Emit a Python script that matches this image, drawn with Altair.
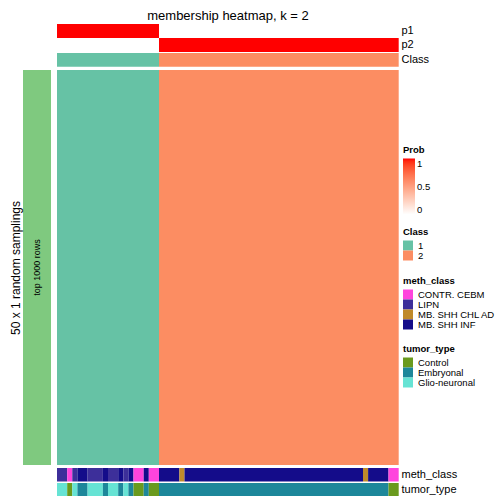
import altair as alt
import pandas as pd

TITLE = "membership heatmap, k = 2"
FONT = "Liberation Sans"

# run-length descriptions of the columns (samples)
class_runs = [("1", 20), ("2", 47)]
p1_runs = [(1.0, 20), (0.0, 47)]
p2_runs = [(0.0, 20), (1.0, 47)]
meth_runs = [
    ("LIPN", 2), ("CONTR. CEBM", 1), ("LIPN", 1), ("MB. SHH INF", 2), ("LIPN", 3),
    ("MB. SHH INF", 1), ("LIPN", 2), ("MB. SHH INF", 1), ("LIPN", 1), ("MB. SHH INF", 1),
    ("CONTR. CEBM", 2), ("MB. SHH INF", 1), ("CONTR. CEBM", 2), ("MB. SHH INF", 4),
    ("MB. SHH CHL AD", 1), ("MB. SHH INF", 35), ("MB. SHH CHL AD", 1), ("MB. SHH INF", 4),
    ("CONTR. CEBM", 2),
]
tumor_runs = [
    ("Glio-neuronal", 2), ("Control", 1), ("Glio-neuronal", 1), ("Embryonal", 2),
    ("Glio-neuronal", 3), ("Embryonal", 1), ("Glio-neuronal", 2), ("Embryonal", 1),
    ("Glio-neuronal", 1), ("Embryonal", 1), ("Control", 2), ("Embryonal", 1),
    ("Control", 2), ("Embryonal", 45), ("Control", 2),
]

class_levels = ["1", "2"]
class_colors = ["#66C2A5", "#FC8D62"]
meth_levels = ["CONTR. CEBM", "LIPN", "MB. SHH CHL AD", "MB. SHH INF"]
meth_colors = ["#FF44DD", "#3D2F9A", "#BF8A2B", "#140C8A"]
tumor_levels = ["Control", "Embryonal", "Glio-neuronal"]
tumor_colors = ["#6A9A1E", "#1D879A", "#66E3D4"]
row_label = "top 1000 rows"
side_title = "50 x 1 random samplings"

N_COLS = sum(n for _, n in class_runs)


def segments(runs, row, field):
    """Turn a run-length list into one record per run (start/end column index)."""
    recs, pos = [], 0
    for v, n in runs:
        recs.append({"start": pos, "end": pos + n, "row": row, field: v})
        pos += n
    return recs


df_p = pd.DataFrame(segments(p1_runs, "p1", "prob") + segments(p2_runs, "p2", "prob"))
df_cls = pd.DataFrame(segments(class_runs, "Class", "cls"))
df_main = pd.DataFrame(segments(class_runs, row_label, "cls"))
df_meth = pd.DataFrame(segments(meth_runs, "meth_class", "meth_class"))
df_tumor = pd.DataFrame(segments(tumor_runs, "tumor_type", "tumor_type"))
df_left = pd.DataFrame({"grp": [row_label]})

# chart coordinates: x = page - 8, y = page - 24
X_RANGE = [49, 390.7]
LX = 395


def xenc():
    return alt.X("start:Q", scale=alt.Scale(domain=[0, N_COLS], range=X_RANGE, nice=False, zero=False),
                 axis=None)


def yenc(domain, rng, axis=True):
    ax = alt.Axis(orient="right", domain=False, ticks=False, labelPadding=3, title=None,
                  labelFontSize=11, labelFont=FONT, labelColor="black") if axis else None
    return alt.Y("row:N", scale=alt.Scale(domain=domain, range=rng, paddingInner=0, paddingOuter=0),
                 axis=ax)


prob_scale = alt.Scale(type="linear", domain=[0, 1], range=["#FFFFFF", "#FF0000"],
                       interpolate="lab", nice=False, zero=False)
class_scale = alt.Scale(domain=class_levels, range=class_colors)
meth_scale = alt.Scale(domain=meth_levels, range=meth_colors)
tumor_scale = alt.Scale(domain=tumor_levels, range=tumor_colors)

layer_p = alt.Chart(df_p).mark_rect().encode(
    x=xenc(), x2="end:Q",
    y=yenc(["p1", "p2"], [0, 28]),
    color=alt.Color("prob:Q", scale=prob_scale,
                    legend=alt.Legend(title="Prob", orient="none", legendX=LX, legendY=121,
                                      type="gradient",
                                      gradientLength=56, gradientThickness=12,
                                      values=[0, 0.5, 1], format="~g", labelOverlap=False,
                                      gradientStrokeWidth=0)),
)

layer_cls = alt.Chart(df_cls).mark_rect().encode(
    x=xenc(), x2="end:Q",
    y=yenc(["Class"], [29, 42.7]),
    color=alt.Color("cls:N", scale=class_scale,
                    legend=alt.Legend(title="Class", orient="none", legendX=LX, legendY=203)),
)

layer_main = alt.Chart(df_main).mark_rect().encode(
    x=xenc(), x2="end:Q",
    y=yenc([row_label], [46, 441], axis=False),
    color=alt.Color("cls:N", scale=class_scale, legend=None),
)

layer_meth = alt.Chart(df_meth).mark_rect().encode(
    x=xenc(), x2="end:Q",
    y=yenc(["meth_class"], [444, 457.5]),
    color=alt.Color("meth_class:N", scale=meth_scale,
                    legend=alt.Legend(title="meth_class", orient="none", legendX=LX, legendY=252)),
)

layer_tumor = alt.Chart(df_tumor).mark_rect().encode(
    x=xenc(), x2="end:Q",
    y=yenc(["tumor_type"], [459, 472]),
    color=alt.Color("tumor_type:N", scale=tumor_scale,
                    legend=alt.Legend(title="tumor_type", orient="none", legendX=LX, legendY=320)),
)

left_axis = alt.Axis(orient="left", offset=-15, title=side_title, labels=False, ticks=False,
                     domain=False, titlePadding=1, titleFontSize=12, titleFontWeight="normal",
                     titleFont=FONT, titleColor="black")
left_x = alt.X("grp:N", scale=alt.Scale(range=[15, 43], paddingInner=0, paddingOuter=0), axis=None)
left_y = alt.Y("grp:N", scale=alt.Scale(range=[46, 441], paddingInner=0, paddingOuter=0),
               axis=left_axis)

left_bar = alt.Chart(df_left).mark_rect(color="#7FC97F").encode(x=left_x, y=left_y)
left_text = alt.Chart(df_left).mark_text(angle=270, fontSize=9, font=FONT, color="black").encode(
    x=left_x, y=left_y, text="grp:N")
left = alt.layer(left_bar, left_text)

chart = alt.layer(
    layer_p, layer_cls, layer_main, layer_meth, layer_tumor, left
).resolve_scale(
    x="independent", y="independent", color="independent"
).properties(
    width=390,
    height=472,
    autosize=alt.AutoSizeParams(type="none"),
    padding={"left": 0, "top": 16, "right": 98, "bottom": 0},
    title=alt.Title(TITLE, fontSize=13, fontWeight="normal", font=FONT, color="black",
                    anchor="middle", frame="group", dx=25, offset=1),
).configure_view(
    stroke=None
).configure_legend(
    titleFontSize=9.5, titleFontWeight="bold", titleFont=FONT, titleColor="black",
    labelFontSize=9.5, labelFont=FONT, labelColor="black",
    symbolType="square", symbolSize=100, symbolStrokeWidth=0, rowPadding=0,
    titlePadding=4, labelOffset=5, padding=0, offset=0,
)

chart.save("out.html", embed_options={"renderer": "svg", "actions": False})
